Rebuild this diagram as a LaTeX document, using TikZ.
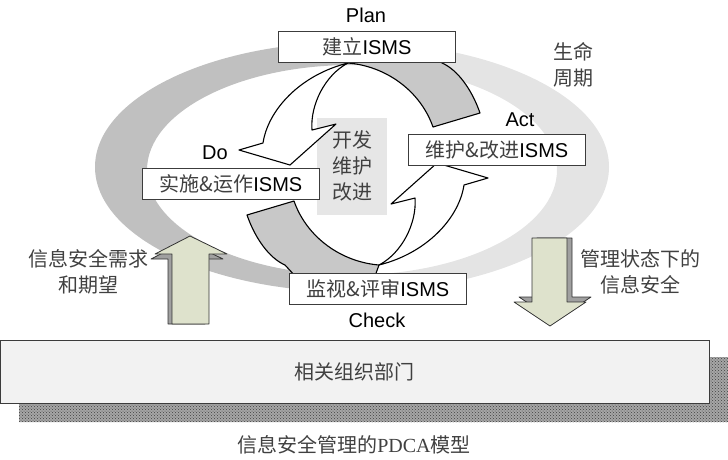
\documentclass[tikz,border=0pt]{standalone}
\usepackage{fontspec}
\setmainfont{Liberation Sans}
\newfontfamily\cjk{Noto Sans CJK SC}
\newfontfamily\tnr{Liberation Serif}
\usepackage{tikz}
\usetikzlibrary{patterns,positioning}
\definecolor{ringdark}{RGB}{192,192,192}
\definecolor{ringlight}{RGB}{228,228,228}
\definecolor{bandgray}{RGB}{200,200,200}
\definecolor{corefill}{RGB}{230,230,230}
\definecolor{arrowfill}{RGB}{222,226,204}
\definecolor{sidegray}{RGB}{160,160,160}
\definecolor{boxline}{RGB}{60,60,60}
\definecolor{barfill}{RGB}{242,242,242}
\newcommand\zh[1]{{\cjk\color{black!75}#1}}
\tikzset{
    x=1pt, y=-1pt, semithick,
    box/.style = {draw=boxline, fill=white, line width=1pt, minimum width=177pt, minimum height=31pt, inner sep=0pt, font=\fontsize{20}{24}\selectfont},
    lbl/.style = {inner sep=0pt, font=\fontsize{20}{24}\selectfont},
    cn/.style = {inner sep=0pt, align=center, text=black!75, font=\fontsize{20}{26}\selectfont\cjk},
    ribbon/.style = {draw, line width=1.1pt, line join=round},
    blockarrow/.style = {draw=black!80, line width=0.8pt, line join=round}
}

\begin{document}
\begin{tikzpicture}
    \useasboundingbox (0,0) rectangle (728,459);
    % life cycle ring
    \foreach \xa/\xb/\col in {0/370/ringdark, 370/728/ringlight}{
        \begin{scope}
            \clip (\xa,0) rectangle (\xb,459);
            \fill[\col, even odd rule] (352,167) ellipse [x radius=257, y radius=125]
                (352,170) ellipse [x radius=205, y radius=105];
        \end{scope}
    }
    \node[fill=corefill, minimum width=70pt, minimum height=97pt] (corebox) at (352,166.5) {};

    % twisted PDCA arrows
    \foreach \ang in {0,180}{
        \begin{scope}[rotate around={\ang:(363.5,164)}]
            \filldraw[ribbon, fill=bandgray] (348,63) .. controls (385,66) and (420,90) .. (433,127)
                -- (480,113) .. controls (472,90) and (458,70) .. (442,63) -- (430,50) -- (352,52) -- cycle;
            \filldraw[ribbon, fill=white] (348,63) .. controls (300,75) and (268,110) .. (263,143)
                -- (239,150) -- (290,165) -- (336,124) -- (312,130)
                .. controls (310,105) and (325,75) .. (348,63) -- cycle;
        \end{scope}
    }

    \node[box] (planbox) at (367,46.5) {\zh{建立}ISMS};
    \node[box] (dobox) at (231,183.5) {\zh{实施\&运作}ISMS};
    \node[box] (actbox) at (497,149.5) {\zh{维护\&改进}ISMS};
    \node[box] (checkbox) at (378,288.5) {\zh{监视\&评审}ISMS};

    \node[lbl] (plan) at (366,15) {Plan};
    \node[lbl] (do) at (215,153) {Do};
    \node[lbl] (act) at (520,120) {Act};
    \node[lbl] (check) at (377,320) {Check};

    \node[cn] (core) at (352,166) {开发\\维护\\改进};
    \node[cn] (life) at (573,65) {生命\\周期};
    \node[cn] (need) at (88,272) {信息安全需求\\和期望};
    \node[cn] (secure) at (640,272) {管理状态下的\\信息安全};

    % in and out arrows
    \filldraw[blockarrow, fill=sidegray] (186,241) -- (223,259) -- (205,259) -- (205,324)
        -- (168,324) -- (168,259) -- (151,259) -- cycle;
    \filldraw[blockarrow, fill=arrowfill] (190,236) -- (227,254) -- (209,254) -- (209,324)
        -- (172,324) -- (172,254) -- (155,254) -- cycle;
    \filldraw[blockarrow, fill=sidegray] (537,238) -- (572,238) -- (572,297) -- (591,297)
        -- (555,321) -- (519,297) -- (537,297) -- cycle;
    \filldraw[blockarrow, fill=arrowfill] (532,238) -- (567,238) -- (567,302) -- (586,302)
        -- (550,326) -- (514,302) -- (532,302) -- cycle;

    % department bar
    \path[fill=black!35, postaction={pattern=crosshatch dots, pattern color=black!75}] (19,357) rectangle (728,422);
    \node[cn, draw=boxline, fill=barfill, line width=1pt, minimum width=709pt, minimum height=63pt] (dept) at (354.5,371.5) {相关组织部门};
    \node[cn] (title) at (354,445) {信息安全管理的{\tnr PDCA}模型};
\end{tikzpicture}
\end{document}
